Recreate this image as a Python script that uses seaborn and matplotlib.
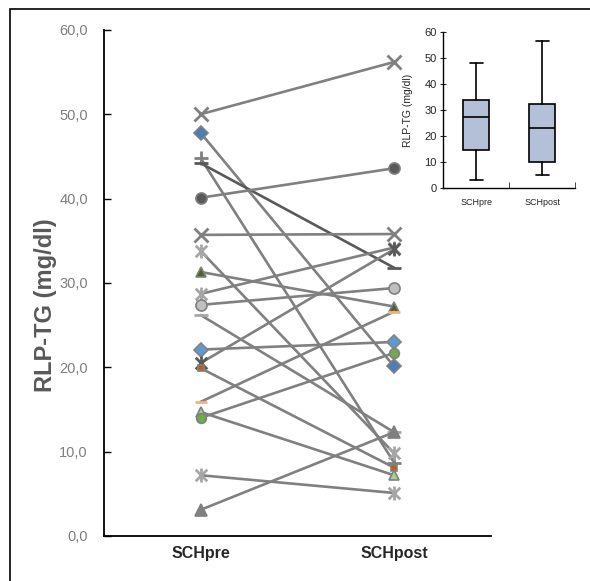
import numpy as np
import pandas as pd
import matplotlib
matplotlib.use("Agg")
import matplotlib.pyplot as plt
import seaborn as sns
from matplotlib.path import Path
from matplotlib.ticker import FuncFormatter

# paired RLP-TG values (mg/dl), one subject per position
pre = [50.0, 47.8, 44.8, 44.2, 40.1, 35.7, 33.8, 31.3, 28.7, 27.4,
       26.2, 22.1, 20.5, 19.9, 15.9, 14.7, 14.0, 7.2, 3.1]
post = [56.2, 20.1, 8.7, 31.8, 43.6, 35.8, 9.8, 27.2, 34.2, 29.4,
        12.3, 23.0, 34.0, 8.1, 26.6, 7.2, 21.7, 5.1, 12.3]
times = ["SCHpre", "SCHpost"]

# inset box plot summary (min, q1, median, q3, max)
box_pre = [3.1, 14.6, 27.2, 33.8, 48.0]
box_post = [5.0, 10.0, 23.0, 32.3, 56.5]

# excel style "star" marker: an x with a vertical bar
star = Path([(-1, -1), (1, 1), (-1, 1), (1, -1), (0, -1.2), (0, 1.2)],
            [Path.MOVETO, Path.LINETO, Path.MOVETO, Path.LINETO, Path.MOVETO, Path.LINETO])

markers = ["x", "D", "+", "_", "o", "x", star, "^", star, "o",
           "_", "D", star, "s", "_", "^", "o", star, "^"]
face = ["#808080", "#4a7ebb", "#808080", "#595959", "#595959", "#808080",
        "#a6a6a6", "#4f6228", "#a6a6a6", "#bfbfbf", "#a6a6a6", "#5b9bd5",
        "#595959", "#c55a11", "#f4b183", "#a9d18e", "#70ad47", "#a6a6a6",
        "#808080"]
sizes = [10, 7, 10, 10, 8, 10, 10, 7, 10, 8, 10, 7, 10, 5, 8, 7, 7, 10, 9]

rows = []
for i, (a, b) in enumerate(zip(pre, post)):
    rows.append({"subject": i, "time": times[0], "value": a})
    rows.append({"subject": i, "time": times[1], "value": b})
df = pd.DataFrame(rows)

sns.set_style("white")
plt.rcParams["font.family"] = ["Liberation Sans", "DejaVu Sans"]

fig = plt.figure(figsize=(5.9, 5.81), dpi=100)
ax = fig.add_axes([0.176, 0.0775, 0.656, 0.871])

for i in range(len(pre)):
    sub = df[df["subject"] == i]
    m = markers[i]
    line_art = not isinstance(m, str) or m in ("x", "+", "_")
    lc = "#595959" if i == 3 else "#808080"
    sns.lineplot(data=sub, x="time", y="value", ax=ax, color=lc, lw=1.9,
                 marker=m, markersize=sizes[i],
                 markerfacecolor=face[i],
                 markeredgecolor=face[i] if line_art else "#808080",
                 markeredgewidth=2 if line_art else 1.2,
                 sort=False, legend=False)

ax.set_xlim(-0.5, 1.5)
ax.set_ylim(0, 60)
ax.set_yticks(np.arange(0, 61, 10))
ax.yaxis.set_major_formatter(FuncFormatter(lambda v, p: f"{v:.1f}".replace(".", ",")))
ax.tick_params(axis="y", direction="in", length=5, width=1, colors="black",
               labelcolor="#7f7f7f", labelsize=10.5, left=True, pad=11.5)
ax.tick_params(axis="x", length=0, labelsize=11.5, pad=7)
for lab in ax.get_xticklabels():
    lab.set_fontweight("bold")
ax.set_xlabel("")
ax.set_ylabel("RLP-TG (mg/dl)", fontsize=17, fontweight="bold", color="#595959")
ax.yaxis.set_label_coords(-0.12, 0.457)
sns.despine(ax=ax)
for s in ("left", "bottom"):
    ax.spines[s].set_color("black")
    ax.spines[s].set_linewidth(1.3)

# inset box plot
ins = fig.add_axes([0.751, 0.676, 0.224, 0.269])
stats = []
for name, b in zip(times, [box_pre, box_post]):
    stats.append({"label": name, "whislo": b[0], "q1": b[1], "med": b[2],
                  "q3": b[3], "whishi": b[4], "fliers": []})
ins.bxp(stats, positions=[0, 1], widths=0.39, patch_artist=True,
        boxprops={"facecolor": "#b4c0d8", "edgecolor": "black", "linewidth": 1.2},
        medianprops={"color": "black", "linewidth": 1.2},
        whiskerprops={"color": "black", "linewidth": 1.2},
        capprops={"color": "black", "linewidth": 1.2})
ins.set_xlim(-0.5, 1.5)
ins.set_ylim(0, 60)
ins.set_yticks(np.arange(0, 61, 10))
ins.tick_params(axis="y", direction="inout", length=5, labelsize=8, left=True, pad=2)
ins.tick_params(axis="x", length=0, labelsize=6.5, pad=7)
ins.set_xticks([-0.5, 0.5, 1.5], minor=True)
ins.tick_params(axis="x", which="minor", direction="in", length=4, bottom=True)
ins.set_ylabel("RLP-TG (mg/dl)", fontsize=7.5, labelpad=8)
sns.despine(ax=ins)
for s in ("left", "bottom"):
    ins.spines[s].set_color("black")
    ins.spines[s].set_linewidth(1)

# outer frame
fig.patches.append(plt.Rectangle((0.017, -0.1), 1.1, 1.0845, transform=fig.transFigure,
                                 fill=False, edgecolor="black", lw=1.2))

fig.savefig("out.png", dpi=100)
